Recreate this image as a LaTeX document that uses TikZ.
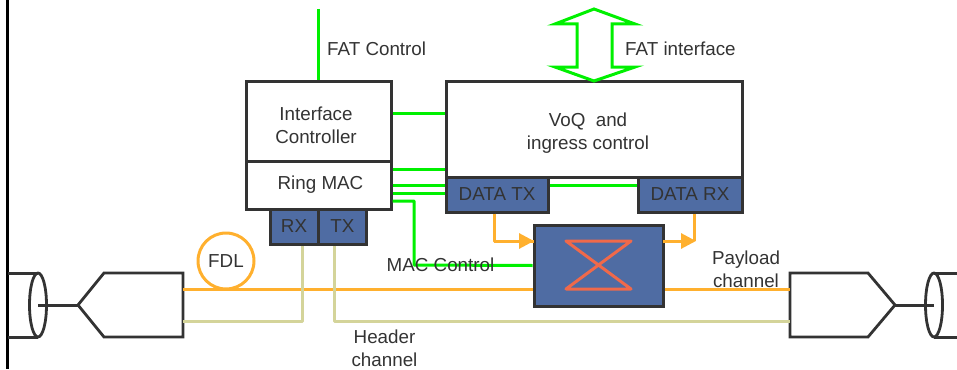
\documentclass[tikz,border=0pt]{standalone}
\usepackage{fontspec}
\setmainfont{Liberation Sans}
\usepackage{tikz}
\usetikzlibrary{arrows.meta,calc,shapes.geometric}
\definecolor{linkgreen}{HTML}{00F000}
\definecolor{fibreorange}{HTML}{FFB02E}
\definecolor{headerkhaki}{HTML}{D4D49A}
\definecolor{portblue}{HTML}{4F6CA3}
\definecolor{crossred}{HTML}{F0694A}
\definecolor{darkline}{HTML}{333333}

\begin{document}
\begin{tikzpicture}[
  x=1pt, y=-1pt,
  every node/.style={font=\fontsize{18.8}{23}\selectfont, text=darkline},
  box/.style={draw=darkline, line width=3pt, fill=white, align=center, inner sep=0pt},
  portbox/.style={box, fill=portblue},
  txt/.style={align=center, inner sep=0pt},
  ctrl/.style={draw=linkgreen, line width=3pt},
  payload/.style={draw=fibreorange, line width=3pt},
  header/.style={draw=headerkhaki, line width=3pt},
  outline/.style={draw=darkline, line width=2.8pt, line join=miter},
  fibreline/.style={draw=darkline, line width=3pt},
  fibrecyl/.style={draw=darkline, line width=2.8pt, ellipse, minimum width=17pt, minimum height=64pt, inner sep=0pt, outer sep=0pt},
  arrow/.style={payload, -{Triangle[length=15pt, width=15pt]}}
]
  \useasboundingbox (0,0) rectangle (957,369);

  % Frame line on the left
  \coordinate (frametop) at (7.5,0);
  \coordinate (framebot) at (7.5,369);
  \draw[black, line width=3pt] (frametop) -- (framebot);

  % Control side
  \node[box, minimum width=145pt, minimum height=80pt] (ifc) at (318.5,121) {};
  \node[box, minimum width=145pt, minimum height=48pt] (mac) at (318.5,185) {};
  \node[portbox, minimum width=48pt, minimum height=35pt] (rx) at (294,226.5) {RX};
  \node[portbox, minimum width=48pt, minimum height=35pt] (tx) at (342.5,226.5) {TX};
  \node[txt] (ifctxt) at (316,125) {Interface\\Controller};
  \node[txt] (mactxt) at (320.5,185) {Ring MAC};

  % Ingress side
  \node[box, minimum width=296pt, minimum height=96pt] (voq) at (594,129) {};
  \node[txt] (voqtxt) at (588,133.5) {VoQ\ \ and\\ingress control};
  \node[portbox, minimum width=102pt, minimum height=35pt] (dtx) at (497,194.5) {DATA TX};
  \node[portbox, minimum width=104pt, minimum height=35pt] (drx) at (690,194.5) {DATA RX};

  % Switch with the crossing inside
  \node[portbox, minimum width=129pt, minimum height=81pt] (sw) at (598.5,265.5) {};
  \coordinate (xtl) at (566,241);
  \coordinate (xtr) at (631,241);
  \coordinate (xbl) at (566,289);
  \coordinate (xbr) at (631,289);
  \draw[draw=crossred, line width=3pt, line join=round] (xtl) -- (xtr) -- (xbl) -- (xbr) -- cycle;

  % Transceivers and fibres at both ends
  \draw[outline] (183,273) -- (104,273) -- (78,305) -- (104,337) -- (183,337) -- cycle;
  \draw[outline] (790,273) -- (868,273) -- (895,305) -- (868,337) -- (790,337) -- cycle;
  \coordinate (ltip) at (78,305);
  \coordinate (rtip) at (895,305);
  \node[fibrecyl] (lcyl) at (38,305) {};
  \node[fibrecyl] (rcyl) at (934,305) {};
  \draw[fibreline] (lcyl.center) -- (ltip);
  \draw[fibreline] (rcyl.center) -- (rtip);
  \draw[fibreline] (framebot |- lcyl.north) -- (lcyl.north);
  \draw[fibreline] (framebot |- lcyl.south) -- (lcyl.south);
  \coordinate (redge) at (957,305);
  \draw[fibreline] (rcyl.north) -- (redge |- rcyl.north);
  \draw[fibreline] (rcyl.south) -- (redge |- rcyl.south);

  % Payload channel
  \coordinate (lpay) at (183,289);
  \coordinate (rpay) at (790,289);
  \draw[payload] (lpay) -- (lpay -| sw.west);
  \draw[payload] (rpay -| sw.east) -- (rpay);
  \node[circle, draw=fibreorange, line width=3pt, minimum size=56pt, inner sep=0pt] (fdl) at (226,261) {FDL};

  % Header channel
  \coordinate (lin) at (183,321);
  \coordinate (rin) at (790,321);
  \coordinate (rxdrop) at (302,321);
  \coordinate (txdrop) at (334,321);
  \draw[header, line join=round] (lin) -- (rxdrop) -- (rxdrop |- rx.south);
  \draw[header, line join=round] (rin) -- (txdrop) -- (txdrop |- tx.south);

  % Data path through the switch
  \coordinate (swin) at (534,241);
  \coordinate (swout) at (663,241);
  \draw[payload, line join=round] (dtx.south -| 494,0) -- (494,241) -- (swin);
  \draw[arrow] (494,241) -- (swin);
  \draw[arrow] (swout) -- (696,241);
  \draw[payload] (694,241) -- (drx.south -| 694,0);

  % Control links
  \draw[ctrl] (ifc.east |- 0,113) -- (voq.west |- 0,113);
  \draw[ctrl] (mac.east |- 0,169) -- (voq.west |- 0,169);
  \draw[ctrl] (mac.east |- 0,185) -- (dtx.west |- 0,185);
  \draw[ctrl] (mac.east |- 0,193) -- (dtx.west |- 0,193);
  \draw[ctrl] (dtx.east |- 0,185) -- (drx.west |- 0,185);
  \draw[ctrl, line join=round] (mac.east |- 0,201) -- (414,201) -- (414,265) -- (sw.west);

  % FAT links
  \coordinate (fattop) at (318,9);
  \draw[ctrl] (fattop) -- (fattop |- ifc.north);
  \draw[ctrl, line join=miter] (594,9) -- (635,24) -- (612,24) -- (612,67) -- (635,67) -- (594,81)
    -- (555,67) -- (577,67) -- (577,24) -- (555,24) -- cycle;

  % Labels
  \node[txt, anchor=west] (fatc) at (327,49) {FAT Control};
  \node[txt, anchor=west] (fati) at (625,49) {FAT interface};
  \node[txt] (macc) at (440.5,265) {MAC Control};
  \node[txt] (pay) at (746,269.5) {Payload\\channel};
  \node[txt] (hdr) at (384.5,348.5) {Header\\channel};
\end{tikzpicture}
\end{document}
